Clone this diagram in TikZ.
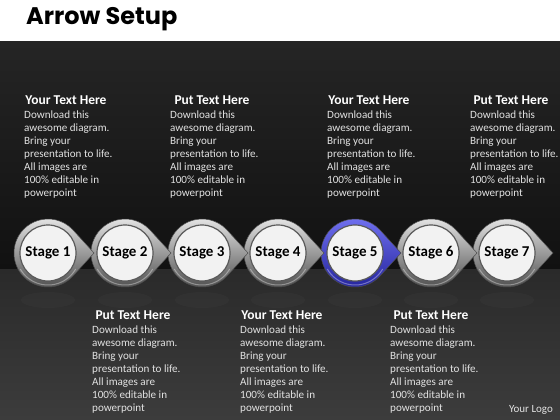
\documentclass[tikz,border=0pt]{standalone}
\usepackage{fontspec}
\setmainfont{Carlito}
\newfontfamily\titlefont{Poppins}
\usetikzlibrary{calc}
\definecolor{bgtop}{HTML}{252525}
\definecolor{bgmid}{HTML}{111111}
\definecolor{floortop}{HTML}{2A2A2A}
\definecolor{floorbot}{HTML}{3C3C3C}
\definecolor{bodytxt}{HTML}{E2E2E2}
\definecolor{ringlight}{HTML}{E6E6E6}
\definecolor{ringdark}{HTML}{4A4A4A}
\definecolor{bluelight}{HTML}{7070F0}
\definecolor{bluedark}{HTML}{22229A}
\definecolor{innerwhite}{HTML}{F2F2F2}
\tikzset{
  headtxt/.style={font=\bfseries\fontsize{13.5}{15}\selectfont, text=white, inner sep=0pt},
  bodyblock/.style={font=\fontsize{11.1}{13}\selectfont, text=bodytxt, align=left, anchor=north west, inner sep=0pt},
  stagelabel/.style={font=\bfseries\fontsize{15}{17}\selectfont, text=black, inner sep=0pt},
  graytear/.style={top color=ringlight, bottom color=ringdark, draw=black!70, line width=0.5pt},
  bluetear/.style={top color=bluelight, bottom color=bluedark, draw=black!70, line width=0.5pt},
  innerdisc/.style={circle, minimum size=56pt, inner sep=0pt, fill=innerwhite, draw=gray!70!black, line width=1.2pt},
}
\newcommand{\teardrop}[3]{% name, x, style
  \coordinate (#1) at (#2,253);
  \fill[white, opacity=0.018] (#2,300) ellipse (27 and 8);
  \draw[#3] ($(#1)+(46,0)$) -- ($(#1)+(43.6:34)$) arc[start angle=43.6, end angle=316.4, radius=34] -- cycle;
  \draw[white, opacity=0.35, line width=1pt] ($(#1)+(150:32)$) arc[start angle=150, end angle=30, radius=32];
}
\begin{document}
\begin{tikzpicture}[x=1pt,y=-1pt]
\useasboundingbox (0,0) rectangle (560,420);
\fill[white] (0,0) rectangle (560,42);
\shade[top color=bgtop, bottom color=bgmid] (0,42) rectangle (560,269);
\shade[top color=floortop, bottom color=floorbot] (0,269) rectangle (560,420);
\node[font=\titlefont\bfseries\fontsize{24}{28}\selectfont, anchor=west, inner sep=0pt] (title) at (26,19) {Arrow Setup};

% stages drawn right to left so each tip lies over the next ring
\teardrop{c7}{507}{graytear}
\teardrop{c6}{431}{graytear}
\teardrop{c5}{355}{bluetear}
\teardrop{c4}{278}{graytear}
\teardrop{c3}{202}{graytear}
\teardrop{c2}{125}{graytear}
\teardrop{c1}{48}{graytear}
\foreach \i in {1,...,7} {
  \node[innerdisc] (d\i) at (c\i) {};
  \node[stagelabel] (s\i) at (c\i) {Stage \i};
}

% upper text blocks
\node[headtxt] (h1) at (66,100) {Your Text Here};
\node[bodyblock] (b1) at (24,111) {Download this\\awesome diagram.\\Bring your\\presentation to life.\\All images are\\100\% editable in\\powerpoint};
\node[headtxt] (h3) at (212,100) {Put Text Here};
\node[bodyblock] (b3) at (170,111) {Download this\\awesome diagram.\\Bring your\\presentation to life.\\All images are\\100\% editable in\\powerpoint};
\node[headtxt] (h5) at (369,100) {Your Text Here};
\node[bodyblock] (b5) at (327,111) {Download this\\awesome diagram.\\Bring your\\presentation to life.\\All images are\\100\% editable in\\powerpoint};
\node[headtxt] (h7) at (511,100) {Put Text Here};
\node[bodyblock] (b7) at (470,111) {Download this\\awesome diagram.\\Bring your\\presentation to life.\\All images are\\100\% editable in\\powerpoint};

% lower text blocks
\node[headtxt] (h2) at (133,315) {Put Text Here};
\node[bodyblock] (b2) at (92,326) {Download this\\awesome diagram.\\Bring your\\presentation to life.\\All images are\\100\% editable in\\powerpoint};
\node[headtxt] (h4) at (282,315) {Your Text Here};
\node[bodyblock] (b4) at (240,326) {Download this\\awesome diagram.\\Bring your\\presentation to life.\\All images are\\100\% editable in\\powerpoint};
\node[headtxt] (h6) at (431,315) {Put Text Here};
\node[bodyblock] (b6) at (390,326) {Download this\\awesome diagram.\\Bring your\\presentation to life.\\All images are\\100\% editable in\\powerpoint};

\node[font=\fontsize{11}{12}\selectfont, text=bodytxt, inner sep=0pt] (logo) at (531,410) {Your Logo};
\end{tikzpicture}
\end{document}
